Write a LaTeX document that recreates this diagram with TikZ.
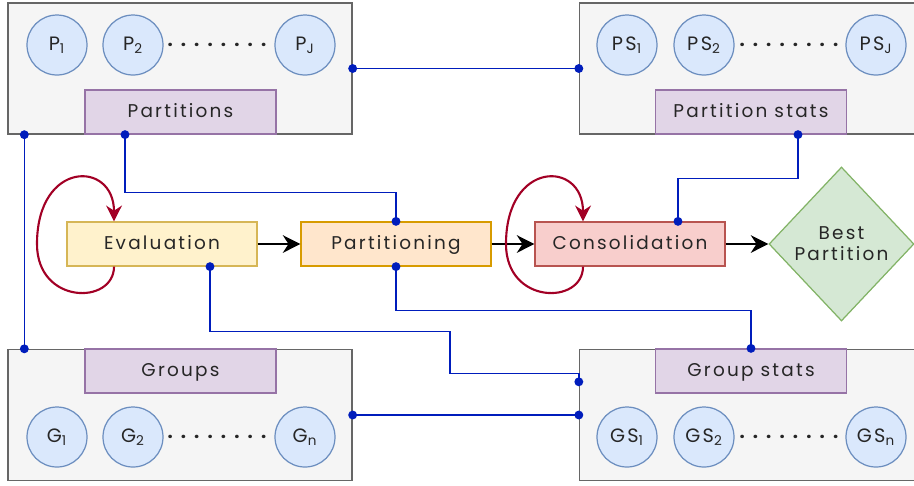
\documentclass[tikz,border=0pt]{standalone}
\usepackage{fontspec}
\setmainfont[LetterSpace=12]{Poppins}
\usetikzlibrary{arrows.meta,shapes.geometric}

\definecolor{holdfill}{HTML}{F5F5F5}
\definecolor{holdline}{HTML}{666666}
\definecolor{tagfill}{HTML}{E1D5E7}
\definecolor{tagline}{HTML}{9673A6}
\definecolor{itemfill}{HTML}{DAE8FC}
\definecolor{itemline}{HTML}{6C8EBF}
\definecolor{evalfill}{HTML}{FFF2CC}
\definecolor{evalline}{HTML}{D6B656}
\definecolor{partfill}{HTML}{FFE6CC}
\definecolor{partline}{HTML}{D79B00}
\definecolor{consfill}{HTML}{F8CECC}
\definecolor{consline}{HTML}{B85450}
\definecolor{bestfill}{HTML}{D5E8D4}
\definecolor{bestline}{HTML}{82B366}
\definecolor{loopred}{HTML}{A20025}
\definecolor{wireblue}{HTML}{001DBC}

\begin{document}
\begin{tikzpicture}[x=0.02cm,y=-0.02cm,
		every node/.style={font=\fontsize{10.5}{12}\selectfont,text=black!85},
		holder/.style={draw=holdline,fill=holdfill,line width=0.8pt,minimum width=6.88cm,minimum height=2.62cm},
		tag/.style={draw=tagline,fill=tagfill,line width=0.7pt,minimum width=3.82cm,minimum height=0.88cm,text height=1.6ex,text depth=0.4ex},
		item/.style={circle,draw=itemline,fill=itemfill,line width=0.7pt,minimum size=1.2cm,inner sep=0pt,font=\fontsize{11}{12}\selectfont},
		stage/.style={line width=0.7pt,minimum width=3.8cm,minimum height=0.88cm,text height=1.6ex,text depth=0.4ex},
		flow/.style={line width=1.4pt,-{Stealth[length=10pt,width=10pt]}},
		loopback/.style={loopred,line width=1.2pt,-{Stealth[length=9pt,width=9pt]}},
		wire/.style={wireblue,line width=0.8pt,{Circle[length=5pt]}-{Circle[length=5pt]},shorten <=-2.5pt,shorten >=-2.5pt}]
		\useasboundingbox (0,0) rectangle (914,485);

		\node[holder] (ptbox) at (180,68.5) {};
		\node[holder,minimum width=6.7cm] (psbox) at (747,68.5) {};
		\node[holder] (gbox) at (180,415) {};
		\node[holder,minimum width=6.7cm] (gsbox) at (747,415) {};

		\node[tag] (parts) at (180.5,112) {Partitions};
		\node[tag] (pstats) at (751,112) {Partition stats};
		\node[tag] (groups) at (180.5,371) {Groups};
		\node[tag] (gstats) at (751,371) {Group stats};

		\node[item] (p1) at (57,45) {P\textsubscript{1}};
		\node[item] (p2) at (133,45) {P\textsubscript{2}};
		\node at (218,45) {\textbf{. . . . . . . .}};
		\node[item] (pj) at (305,45) {P\textsubscript{J}};
		\node[item] (ps1) at (627,45) {PS\textsubscript{1}};
		\node[item] (ps2) at (704,45) {PS\textsubscript{2}};
		\node at (790,45) {\textbf{. . . . . . . .}};
		\node[item] (psj) at (876,45) {PS\textsubscript{J}};
		\node[item] (g1) at (57,437) {G\textsubscript{1}};
		\node[item] (g2) at (133,437) {G\textsubscript{2}};
		\node at (218,437) {\textbf{. . . . . . . .}};
		\node[item] (gn) at (305,437) {G\textsubscript{n}};
		\node[item] (gs1) at (627,437) {GS\textsubscript{1}};
		\node[item] (gs2) at (704,437) {GS\textsubscript{2}};
		\node at (790,437) {\textbf{. . . . . . . .}};
		\node[item] (gsn) at (876,437) {GS\textsubscript{n}};

		\node[stage,draw=evalline,fill=evalfill] (eval) at (162,244) {Evaluation};
		\node[stage,draw=partline,fill=partfill] (part) at (396,244) {Partitioning};
		\node[stage,draw=consline,fill=consfill] (cons) at (630,244) {Consolidation};
		\node[diamond,draw=bestline,fill=bestfill,line width=0.7pt,minimum width=2.9cm,minimum height=3.08cm,inner sep=0pt,align=center] (best) at (841.5,244) {Best\\Partition};

		\draw[flow] (eval) -- (part);
		\draw[flow] (part) -- (cons);
		\draw[flow] (cons) -- (best);

		\draw[loopback] ([xshift=-0.96cm]eval.south) .. controls (114,305) and (37,305) .. (37,244) .. controls (37,160) and (114,160) .. ([xshift=-0.96cm]eval.north);
		\draw[loopback] ([xshift=-0.94cm]cons.south) .. controls (583,305) and (506,305) .. (506,244) .. controls (506,160) and (583,160) .. ([xshift=-0.94cm]cons.north);

		\draw[wire] (ptbox.east) -- (psbox.west);
		\draw[wire] (gbox.east) -- (gsbox.west);
		\draw[wire] ([xshift=0.34cm]ptbox.south west) -- ([xshift=0.34cm]gbox.north west);
		\draw[wire] ([xshift=-1.11cm]parts.south) -- ++(0,58) -| (part.north);
		\draw[wire] ([xshift=0.94cm]pstats.south) -- ++(0,44) -| ([xshift=0.96cm]cons.north);
		\draw[wire] ([xshift=0.96cm]eval.south) -- ++(0,65) -| ++(240,42) -| ([yshift=-0.66cm]gsbox.north west);
		\draw[wire] (part.south) -- ++(0,44) -| (gstats.north);
	\end{tikzpicture}
\end{document}
